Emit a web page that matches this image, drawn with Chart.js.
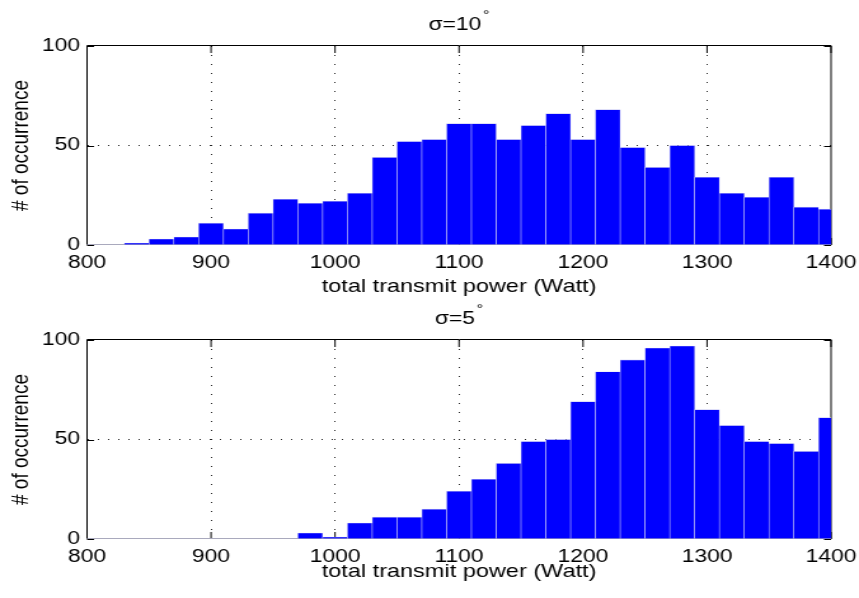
<!DOCTYPE html>
<html><head><meta charset="utf-8">
<script src="https://cdn.jsdelivr.net/npm/chart.js@4/dist/chart.umd.min.js"></script>
<style>
html,body{margin:0;padding:0;background:#fff;width:859px;height:598px;overflow:hidden;}
.wrap{position:absolute;left:0;transform-origin:0 0;transform:scaleX(1.2707);}
canvas{display:block;}
</style></head><body>
<div class="wrap" style="top:0px"><canvas id="c1" width="676" height="300"></canvas></div>
<div class="wrap" style="top:294px"><canvas id="c2" width="676" height="304"></canvas></div>
<script>
// ---- data ----
const binCenters = [820,840,860,880,900,920,940,960,980,1000,1020,1040,1060,1080,1100,1120,1140,1160,1180,1200,1220,1240,1260,1280,1300,1320,1340,1360,1380,1400];
const countsSigma10 = [0,1,3,4,11,8,16,23,21,22,26,44,52,53,61,61,53,60,66,53,68,49,39,50,34,26,24,34,19,18];
const countsSigma5  = [0,0,0,0,0,0,0,0,3,1,8,11,11,15,24,30,38,49,50,69,84,90,96,97,65,57,49,48,44,61];
const xTicks = [800,900,1000,1100,1200,1300,1400];
const yTicks = [0,50,100];
const titleTop = 'σ=10';
const titleBottom = 'σ=5';
const titleSup = '°';
const xLabel = 'total transmit power (Watt)';
const yLabel = '# of occurrence';

const FONT = '"Liberation Sans", Arial, Helvetica, sans-serif';
Chart.defaults.font.family = FONT;
Chart.defaults.color = '#000';

const supTitle = {
  id: 'supTitle',
  afterDraw(chart, args, opts) {
    const {ctx, chartArea} = chart;
    ctx.save();
    ctx.fillStyle = '#000';
    ctx.textBaseline = 'alphabetic';
    ctx.font = '18px ' + FONT;
    const w1 = ctx.measureText(opts.text).width;
    ctx.font = '13px ' + FONT;
    const w2 = ctx.measureText(opts.sup).width;
    const gap = 1.3;
    const cx = (chartArea.left + chartArea.right) / 2;
    const x0 = cx - (w1 + gap + w2) / 2;
    ctx.font = '18px ' + FONT;
    ctx.fillText(opts.text, x0, 30);
    ctx.font = '13px ' + FONT;
    ctx.fillText(opts.sup, x0 + w1 + gap, 18.6);
    ctx.restore();
  }
};

const frame = {
  id: 'frame',
  beforeDatasetsDraw(chart) {
    const {ctx, chartArea: {left, right, top, bottom}, scales: {x, y}} = chart;
    const ah = v => Math.round(v) + 0.5;
    ctx.save();
    ctx.lineWidth = 1;
    ctx.strokeStyle = '#000';
    // tick marks (inward)
    ctx.beginPath();
    xTicks.forEach(v => {
      const px = x.getPixelForValue(v);
      ctx.moveTo(px, bottom); ctx.lineTo(px, bottom - 7);
      ctx.moveTo(px, top); ctx.lineTo(px, top + 7);
    });
    yTicks.forEach(v => {
      const py = ah(y.getPixelForValue(v));
      ctx.moveTo(left, py); ctx.lineTo(left + 5.5, py);
      ctx.moveTo(right, py); ctx.lineTo(right - 5.5, py);
    });
    ctx.stroke();
    // box: left, top, right
    ctx.beginPath();
    ctx.moveTo(left, bottom);
    ctx.lineTo(left, ah(top) - 1);
    ctx.lineTo(right, ah(top) - 1);
    ctx.lineTo(right, bottom);
    ctx.stroke();
    // bottom edge (under zero-height bars)
    ctx.strokeStyle = '#a9a9bd';
    ctx.beginPath();
    ctx.moveTo(left, ah(bottom) - 1);
    ctx.lineTo(right, ah(bottom) - 1);
    ctx.stroke();
    ctx.restore();
  }
};

function makeChart(id, counts, titleText, xTitlePadBottom, xAxisHeight) {
  return new Chart(document.getElementById(id), {
    type: 'bar',
    data: {
      datasets: [{
        data: binCenters.map((c, i) => ({x: c, y: counts[i]})),
        backgroundColor: '#0000ff',
        borderColor: '#c4c4f2',
        borderWidth: 0.6,
        borderSkipped: 'start',
        barPercentage: 1,
        categoryPercentage: 1,
        clip: 0
      }]
    },
    options: {
      responsive: false,
      animation: false,
      events: [],
      layout: {padding: {top: 46, right: 22, left: 0, bottom: 0}},
      plugins: {
        legend: {display: false},
        title: {display: false},
        tooltip: {enabled: false},
        supTitle: {text: titleText, sup: titleSup}
      },
      scales: {
        x: {
          type: 'linear',
          min: 800, max: 1400,
          offset: false,
          afterBuildTicks: s => { s.ticks = xTicks.map(v => ({value: v})); },
          ticks: {font: {size: 18}, padding: 7, maxRotation: 0, autoSkip: false, callback: v => String(v)},
          grid: {
            offset: false, drawTicks: false, lineWidth: 1,
            color: c => (c.tick && (c.tick.value === 800 || c.tick.value === 1400)) ? 'rgba(0,0,0,0)' : 'rgba(0,0,0,0.85)'
          },
          border: {display: false, dash: [1, 8]},
          title: {display: true, text: xLabel, font: {size: 18.5}, padding: {top: 0, bottom: xTitlePadBottom}},
          afterFit: s => { s.height = xAxisHeight; s.paddingLeft = 0; s.paddingRight = 0; }
        },
        y: {
          min: 0, max: 100,
          afterBuildTicks: s => { s.ticks = yTicks.map(v => ({value: v})); },
          ticks: {font: {size: 18}, padding: 5.5, callback: v => String(v)},
          grid: {
            drawTicks: false, lineWidth: 1,
            color: c => (c.tick && (c.tick.value === 0 || c.tick.value === 100)) ? 'rgba(0,0,0,0)' : 'rgba(0,0,0,0.85)'
          },
          border: {display: false, dash: [1, 7]},
          title: {display: true, text: yLabel, font: {size: 19}, padding: {top: 5.7, bottom: 0}},
          afterFit: s => { s.width = 68.5; s.paddingTop = 0; s.paddingBottom = 0; }
        }
      }
    },
    plugins: [frame, supTitle]
  });
}

makeChart('c1', countsSigma10, titleTop, 2.2, 55);
makeChart('c2', countsSigma5, titleBottom, 15.2, 59);
</script>
</body></html>
